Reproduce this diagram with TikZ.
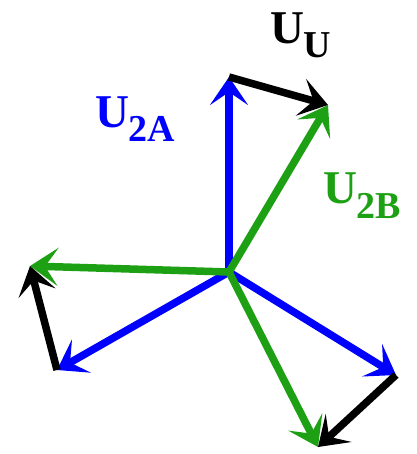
\documentclass[tikz,border=0pt]{standalone}
\usepackage{fontspec}
\setmainfont{Liberation Serif}
\usetikzlibrary{arrows.meta}
\definecolor{vblue}{RGB}{0,0,255}
\definecolor{vgreen}{RGB}{30,160,20}
\newcommand{\vlabel}[2][]{{\fontsize{47}{47}\selectfont\bfseries U}\raisebox{-14pt}{\fontsize{38}{38}\selectfont\bfseries #2}}
\tikzset{
  vec/.style={line width=7.5pt, -{Stealth[length=28pt,width=38pt,inset=13pt]}},
  bluevec/.style={vec, draw=vblue, fill=vblue},
  greenvec/.style={vec, draw=vgreen, fill=vgreen},
  blackvec/.style={vec, draw=black, fill=black},
  lbl/.style={anchor=base west, inner sep=0pt, outer sep=0pt}
}
\begin{document}
\begin{tikzpicture}[x=1pt,y=-1pt]
\useasboundingbox (0,0) rectangle (416,454);
\coordinate (O) at (229,272);
\coordinate (A1) at (229,77);
\coordinate (A2) at (57,370);
\coordinate (A3) at (396,375);
\coordinate (B1) at (328,105);
\coordinate (B2) at (30,266);
\coordinate (B3) at (318,447);
\draw[bluevec] (O) -- (A1);
\draw[bluevec] (O) -- (A2);
\draw[bluevec] (O) -- (A3);
\draw[greenvec] (O) -- (B1);
\draw[greenvec] (O) -- (B2);
\draw[greenvec] (O) -- (B3);
\draw[blackvec] (A1) -- (B1);
\draw[blackvec] (A2) -- (B2);
\draw[blackvec] (A3) -- (B3);
\node[lbl, text=black] (lu) at (270,44) {\vlabel{U}};
\node[lbl, text=vblue] (la) at (95,128) {\vlabel{2A}};
\node[lbl, text=vgreen] (lb) at (323,204) {\vlabel{2B}};
\end{tikzpicture}
\end{document}
